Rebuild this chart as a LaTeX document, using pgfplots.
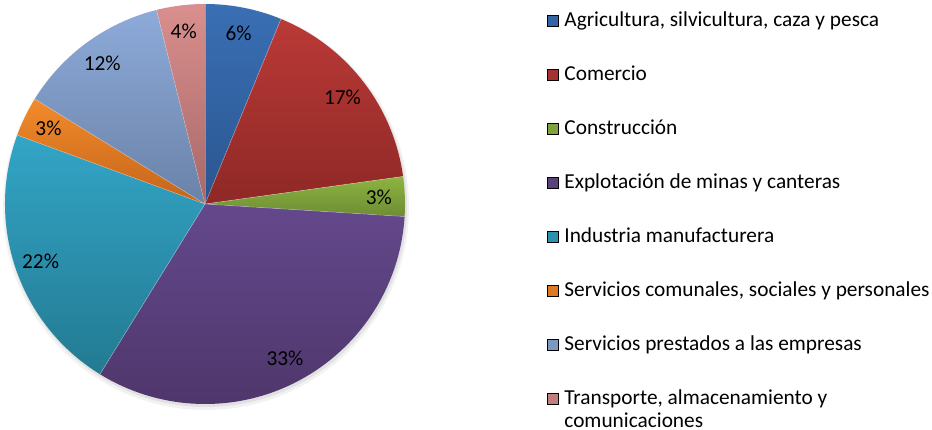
\documentclass[border=0pt]{standalone}
\usepackage{pgfplots}
\pgfplotsset{compat=1.18}
\usepackage{pgfplotstable}
\usepackage{fontspec}
\setmainfont{Carlito}

% top / bottom gradient colours of the slices
\definecolor{agrT}{HTML}{3A6FB4}\definecolor{agrB}{HTML}{2A5690}
\definecolor{comT}{HTML}{BA3A37}\definecolor{comB}{HTML}{8E2826}
\definecolor{conT}{HTML}{8DB441}\definecolor{conB}{HTML}{6E8C33}
\definecolor{minT}{HTML}{64488C}\definecolor{minB}{HTML}{4E366A}
\definecolor{indT}{HTML}{33A5C6}\definecolor{indB}{HTML}{237A92}
\definecolor{serT}{HTML}{F28B2B}\definecolor{serB}{HTML}{C5641A}
\definecolor{preT}{HTML}{8DAAD9}\definecolor{preB}{HTML}{6A82A8}
\definecolor{traT}{HTML}{D98F8D}\definecolor{traB}{HTML}{A66868}

\newcommand\chartfont{\fontsize{21.4}{24}\selectfont}

\pgfplotstableread{
val col
6.2  agr
16.6 com
3.2  con
32.8 min
21.8 ind
3.2  ser
12.3 pre
3.9  tra
}\piedata

\pgfplotsset{
  sq/.style={legend image code/.code={\fill[##1] (0bp,-4.5bp) rectangle (11bp,6.5bp);}},
}

\begin{document}
\begin{tikzpicture}
\begin{axis}[
  width=932bp, height=430bp, scale only axis,
  xmin=0, xmax=932, ymin=0, ymax=430,
  hide axis, clip=false,
  legend style={
    at={(0.58691,0.97209)}, anchor=north west,
    draw=none, fill=none, inner sep=0pt, outer sep=0pt,
    row sep=35bp, column sep=6bp,
    font=\chartfont,
    nodes={inner sep=0pt, text height=14bp, text depth=5bp},
    cells={anchor=west},
  },
]
\path (axis cs:0,0) rectangle (axis cs:932,430);

\pgfplotsextra{
  \begin{scope}[overlay]
  % soft shadow
  \fill[black, opacity=0.05] (axis cs:206,223) circle (203bp);
  \fill[black, opacity=0.07] (axis cs:206,224) circle (201bp);
  \xdef\cum{90}
  \pgfplotstablegetrowsof{\piedata}
  \pgfmathtruncatemacro\nrows{\pgfplotsretval-1}
  \foreach \i in {0,...,\nrows}{
    \pgfplotstablegetelem{\i}{val}\of\piedata \let\slval\pgfplotsretval
    \pgfplotstablegetelem{\i}{col}\of\piedata \let\slcol\pgfplotsretval
    \pgfmathsetmacro\s{\cum}
    \pgfmathsetmacro\e{\cum-3.6*\slval}
    \pgfmathsetmacro\m{(\s+\e)/2}
    \pgfmathtruncatemacro\lab{round(\slval)}
    \shade[top color=\slcol T, bottom color=\slcol B]
      (axis cs:205,226) -- ++(\s:200bp) arc[start angle=\s, end angle=\e, radius=200bp] -- cycle;
    \draw[white, opacity=0.35, line width=0.6bp]
      (axis cs:205,226) -- ++(\s:200bp);
    \path (axis cs:205,226) ++(\m:174bp) node[font=\chartfont, text=black] {\lab\%};
    \xdef\cum{\e}
  }
  \end{scope}
}

\addlegendimage{sq, fill=agrT!55!agrB}
\addlegendentry{Agricultura, silvicultura, caza y pesca}
\addlegendimage{sq, fill=comT!55!comB}
\addlegendentry{Comercio}
\addlegendimage{sq, fill=conT!55!conB}
\addlegendentry{Construcción}
\addlegendimage{sq, fill=minT!55!minB}
\addlegendentry{Explotación de minas y canteras}
\addlegendimage{sq, fill=indT!55!indB}
\addlegendentry{Industria manufacturera}
\addlegendimage{sq, fill=serT!55!serB}
\addlegendentry{Servicios comunales, sociales y personales}
\addlegendimage{sq, fill=preT!55!preB}
\addlegendentry{Servicios prestados a las empresas}
\addlegendimage{sq, fill=traT!55!traB}
\addlegendentry{\smash{\begin{tabular}[t]{@{}l@{}}Transporte, almacenamiento y\\comunicaciones\end{tabular}}}
\end{axis}
\end{tikzpicture}
\end{document}
